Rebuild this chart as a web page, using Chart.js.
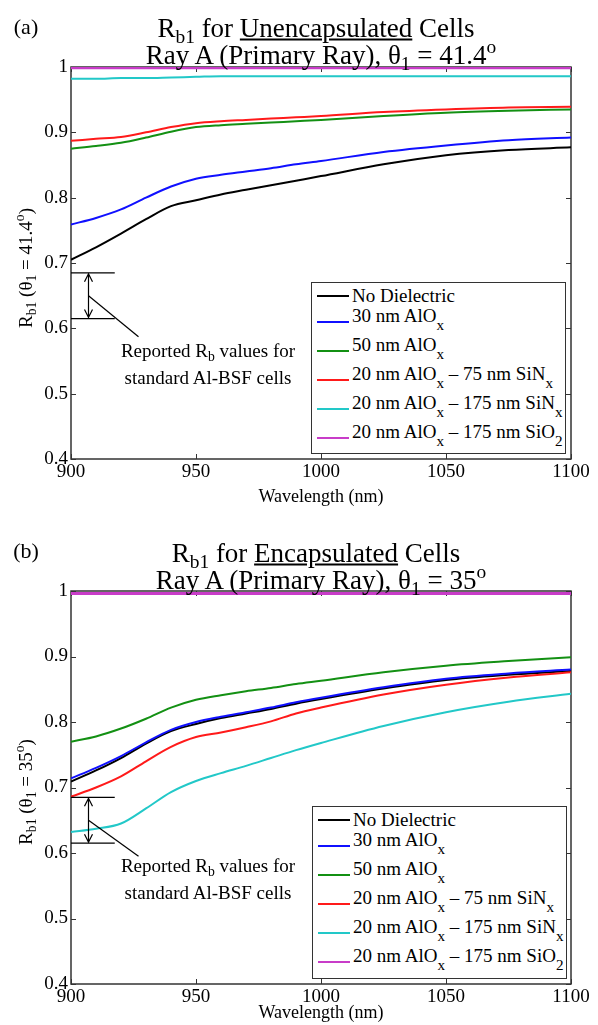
<!DOCTYPE html>
<html>
<head>
<meta charset="utf-8">
<script src="https://cdn.jsdelivr.net/npm/chart.js@4.4.0/dist/chart.umd.min.js"></script>
<style>
  body { margin: 0; background: #fff; }
  #page { position: relative; width: 598px; height: 1025px; overflow: hidden;
          font-family: "Liberation Serif", "Times New Roman", serif; color: #000; }
  canvas { position: absolute; left: 0; }
  .txt { position: absolute; white-space: nowrap; transform: translate(-50%, -50%); }
  .ttl { font-size: 27px; }
  .tag { font-size: 22px; }
  .ylab { font-size: 19px; transform: translate(-50%, -50%) rotate(-90deg); }
  .note { font-size: 19px; text-align: center; line-height: 25px; }
  sub.s { font-size: 0.72em; vertical-align: baseline; position: relative; top: 0.3em; }
  sup.o { font-size: 0.72em; vertical-align: baseline; position: relative; top: -0.55em; }
  .legend { position: absolute; background: #fff; border: 1.5px solid #333; box-sizing: border-box; }
  .legend .row { position: absolute; left: 0; height: 0; }
  .legend .swatch { position: absolute; left: 5px; width: 32px; height: 2px; top: -1px; }
  .legend .lt { position: absolute; left: 40px; font-size: 19px; white-space: nowrap; transform: translateY(-50%); }
  .legend sub { font-size: 0.8em; vertical-align: baseline; position: relative; top: 0.5em; }
</style>
</head>
<body>
<div id="page">
  <canvas id="chartA" width="598" height="515" style="top:0px"></canvas>
  <canvas id="chartB" width="598" height="510" style="top:515px"></canvas>

  <div class="txt tag" style="left:26px; top:27px">(a)</div>
  <div class="txt ttl" style="left:316px; top:28px">R<sub class="s">b1</sub> for <u>Unencapsulated</u> Cells</div>
  <div class="txt ttl" style="left:321px; top:55px">Ray A (Primary Ray), θ<sub class="s">1</sub> = 41.4<sup class="o">o</sup></div>
  <div class="txt ylab" style="left:26px; top:268px">R<sub class="s">b1</sub> (θ<sub class="s">1</sub> = 41.4<sup class="o">o</sup>)</div>
  <div class="txt note" style="left:208px; top:364px">Reported R<sub class="s">b</sub> values for<br>standard Al-BSF cells</div>
  <div class="legend" id="legA" style="left:311px; top:282px; width:255px; height:172px"></div>

  <div class="txt tag" style="left:26px; top:551px">(b)</div>
  <div class="txt ttl" style="left:316px; top:553px">R<sub class="s">b1</sub> for <u>Encapsulated</u> Cells</div>
  <div class="txt ttl" style="left:321px; top:580px">Ray A (Primary Ray), θ<sub class="s">1</sub> = 35<sup class="o">o</sup></div>
  <div class="txt ylab" style="left:26px; top:792px">R<sub class="s">b1</sub> (θ<sub class="s">1</sub> = 35<sup class="o">o</sup>)</div>
  <div class="txt note" style="left:208px; top:879px">Reported R<sub class="s">b</sub> values for<br>standard Al-BSF cells</div>
  <div class="legend" id="legB" style="left:312px; top:806px; width:255px; height:173px"></div>
</div>

<script>
// wavelengths (nm) shared by all curves
const wavelengths = [900, 910, 920, 930, 940, 950, 960, 970, 980, 990, 1000, 1025, 1050, 1075, 1100];

// series names and colours (MATLAB default-ish)
const seriesNames = [
  'No Dielectric',
  '30 nm AlO<sub>x</sub>',
  '50 nm AlO<sub>x</sub>',
  '20 nm AlO<sub>x</sub> – 75 nm SiN<sub>x</sub>',
  '20 nm AlO<sub>x</sub> – 175 nm SiN<sub>x</sub>',
  '20 nm AlO<sub>x</sub> – 175 nm SiO<sub>2</sub>'
];
const seriesColors = ['#000000', '#1010ff', '#139013', '#ff1a1a', '#22c8c8', '#c83cc8'];
const seriesWidths = [2, 2, 2, 2, 2, 3];

// (a) unencapsulated cells, theta1 = 41.4
const unencNoDiel = [0.705, 0.724, 0.745, 0.767, 0.787, 0.796, 0.805, 0.812, 0.819, 0.826, 0.833, 0.851, 0.865, 0.873, 0.877];
const unencAlOx30 = [0.759, 0.769, 0.782, 0.800, 0.817, 0.829, 0.835, 0.840, 0.845, 0.851, 0.856, 0.870, 0.880, 0.888, 0.892];
const unencAlOx50 = [0.875, 0.879, 0.884, 0.892, 0.901, 0.908, 0.911, 0.913, 0.915, 0.917, 0.919, 0.925, 0.930, 0.933, 0.935];
const unencSiN75 = [0.887, 0.890, 0.893, 0.900, 0.908, 0.914, 0.917, 0.919, 0.921, 0.923, 0.925, 0.931, 0.935, 0.938, 0.939];
const unencSiN175 = [0.982, 0.982, 0.983, 0.983, 0.984, 0.985, 0.986, 0.986, 0.986, 0.986, 0.986, 0.986, 0.986, 0.986, 0.986];
const unencSiO2 = [0.999, 0.999, 0.999, 0.999, 0.999, 0.999, 0.999, 0.999, 0.999, 0.999, 0.999, 0.999, 0.999, 0.999, 0.999];

// (b) encapsulated cells, theta1 = 35
const encNoDiel = [0.709, 0.726, 0.745, 0.767, 0.786, 0.797, 0.806, 0.813, 0.820, 0.828, 0.835, 0.851, 0.864, 0.872, 0.878];
const encAlOx30 = [0.714, 0.730, 0.748, 0.769, 0.788, 0.800, 0.808, 0.815, 0.822, 0.830, 0.837, 0.853, 0.866, 0.874, 0.880];
const encAlOx50 = [0.770, 0.778, 0.790, 0.805, 0.822, 0.834, 0.841, 0.847, 0.852, 0.858, 0.863, 0.876, 0.886, 0.893, 0.899];
const encSiN75 = [0.686, 0.700, 0.717, 0.740, 0.762, 0.777, 0.784, 0.792, 0.801, 0.813, 0.822, 0.842, 0.857, 0.868, 0.876];
const encSiN175 = [0.632, 0.637, 0.645, 0.668, 0.693, 0.710, 0.722, 0.733, 0.745, 0.757, 0.768, 0.794, 0.815, 0.831, 0.843];
const encSiO2 = [0.996, 0.996, 0.996, 0.996, 0.996, 0.996, 0.996, 0.996, 0.996, 0.996, 0.996, 0.996, 0.996, 0.996, 0.996];

// axis ticks
const xTickLabels = ['900', '950', '1000', '1050', '1100'];
const yTickLabels = ['0.4', '0.5', '0.6', '0.7', '0.8', '0.9', '1'];

// "reported Rb" bracket: wavelength span, Rb range, arrow x, leader line end
const bracketX = [900, 917.5];
const bracketRb = [0.615, 0.685];
const arrowX = 907;
const leaderA = [[907, 0.650], [927, 0.587]];
const leaderB = [[907, 0.650], [927, 0.595]];

const axisFont = { family: 'Liberation Serif', size: 19 };

// box, inward ticks and the bracket annotation
const framePlugin = {
  id: 'frame',
  beforeDatasetsDraw(chart) {
    const { ctx, chartArea: a, scales: { x, y } } = chart;
    ctx.save();
    ctx.strokeStyle = '#333';
    ctx.lineWidth = 1.5;
    ctx.strokeRect(a.left, a.top, a.right - a.left, a.bottom - a.top);
    ctx.lineWidth = 1;
    const len = 5;
    x.ticks.forEach(t => {
      const px = Math.round(x.getPixelForValue(t.value)) + 0.5;
      ctx.beginPath();
      ctx.moveTo(px, a.bottom); ctx.lineTo(px, a.bottom - len);
      ctx.moveTo(px, a.top); ctx.lineTo(px, a.top + len);
      ctx.stroke();
    });
    y.ticks.forEach(t => {
      const py = Math.round(y.getPixelForValue(t.value)) + 0.5;
      ctx.beginPath();
      ctx.moveTo(a.left, py); ctx.lineTo(a.left + len, py);
      ctx.moveTo(a.right, py); ctx.lineTo(a.right - len, py);
      ctx.stroke();
    });
    ctx.restore();
  },
  afterDatasetsDraw(chart, args, opts) {
    const { ctx, scales: { x, y } } = chart;
    ctx.save();
    ctx.strokeStyle = '#000';
    ctx.lineWidth = 1.2;
    // horizontal bracket lines
    bracketRb.forEach(v => {
      ctx.beginPath();
      ctx.moveTo(x.getPixelForValue(bracketX[0]), y.getPixelForValue(v));
      ctx.lineTo(x.getPixelForValue(bracketX[1]), y.getPixelForValue(v));
      ctx.stroke();
    });
    // double arrow
    const ax = x.getPixelForValue(arrowX);
    const yTop = y.getPixelForValue(bracketRb[1]) + 1;
    const yBot = y.getPixelForValue(bracketRb[0]) - 1;
    ctx.beginPath();
    ctx.moveTo(ax, yTop); ctx.lineTo(ax, yBot);
    ctx.moveTo(ax - 4, yTop + 8); ctx.lineTo(ax, yTop); ctx.lineTo(ax + 4, yTop + 8);
    ctx.moveTo(ax - 4, yBot - 8); ctx.lineTo(ax, yBot); ctx.lineTo(ax + 4, yBot - 8);
    ctx.stroke();
    // leader line to the note
    const ld = opts.leader;
    ctx.beginPath();
    ctx.moveTo(x.getPixelForValue(ld[0][0]), y.getPixelForValue(ld[0][1]));
    ctx.lineTo(x.getPixelForValue(ld[1][0]), y.getPixelForValue(ld[1][1]));
    ctx.stroke();
    ctx.restore();
  }
};

function makeDatasets(seriesList) {
  return seriesList.map((vals, i) => ({
    label: seriesNames[i].replace(/<[^>]+>/g, ''),
    data: wavelengths.map((w, k) => ({ x: w, y: vals[k] })),
    borderColor: seriesColors[i],
    borderWidth: seriesWidths[i],
    pointRadius: 0,
    cubicInterpolationMode: 'monotone',
    fill: false
  })).reverse(); // draw black last so it sits on top like the original
}

function makeChart(canvasId, seriesList, opts) {
  const ctx = document.getElementById(canvasId).getContext('2d');
  return new Chart(ctx, {
    type: 'line',
    data: { datasets: makeDatasets(seriesList) },
    options: {
      responsive: false,
      animation: false,
      devicePixelRatio: 1,
      layout: { padding: { top: opts.padTop, right: 27, left: 0, bottom: 0 } },
      plugins: {
        legend: { display: false },
        tooltip: { enabled: false },
        frame: { leader: opts.leader }
      },
      scales: {
        x: {
          type: 'linear',
          min: 900,
          max: 1100,
          ticks: {
            stepSize: 50,
            color: '#000',
            font: axisFont,
            padding: 2,
            maxRotation: 0,
            callback: function(value, index) {
              return xTickLabels[index];
            }
          },
          grid: { display: false, drawTicks: false },
          border: { display: false },
          title: {
            display: true,
            text: 'Wavelength (nm)',
            color: '#000',
            font: { family: 'Liberation Serif', size: 18 },
            padding: { top: 0, bottom: opts.titlePad }
          },
          afterFit: function(scale) { scale.height = opts.xHeight; }
        },
        y: {
          min: 0.4,
          max: 1,
          ticks: {
            stepSize: 0.1,
            color: '#000',
            font: axisFont,
            padding: 3,
            callback: function(value, index) {
              return yTickLabels[index];
            }
          },
          grid: { display: false, drawTicks: false },
          border: { display: false },
          afterFit: function(scale) { scale.width = 71; }
        }
      }
    },
    plugins: [framePlugin]
  });
}

// HTML legend, MATLAB style (subscripts drop well below the text)
function buildLegend(id) {
  const rowY = [13, 39, 68, 97, 126, 155];
  const box = document.getElementById(id);
  seriesNames.forEach((name, i) => {
    const row = document.createElement('div');
    row.className = 'row';
    row.style.top = rowY[i] + 'px';
    const sw = document.createElement('div');
    sw.className = 'swatch';
    sw.style.background = seriesColors[i];
    const lt = document.createElement('div');
    lt.className = 'lt';
    lt.innerHTML = name;
    if (i > 0) lt.style.marginTop = '-6px';
    row.appendChild(sw);
    row.appendChild(lt);
    box.appendChild(row);
  });
}

makeChart('chartA',
  [unencNoDiel, unencAlOx30, unencAlOx50, unencSiN75, unencSiN175, unencSiO2],
  { padTop: 67, xHeight: 56, titlePad: 7, leader: leaderA });
makeChart('chartB',
  [encNoDiel, encAlOx30, encAlOx50, encSiN75, encSiN175, encSiO2],
  { padTop: 76, xHeight: 41, titlePad: 1, leader: leaderB });

buildLegend('legA');
buildLegend('legB');
</script>
</body>
</html>
